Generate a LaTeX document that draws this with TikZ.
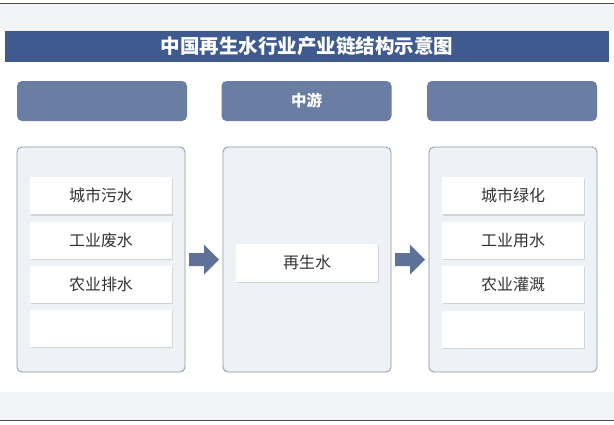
\documentclass[tikz,border=0pt]{standalone}
\usepackage{fontspec}
\newfontfamily\cjk{Noto Sans CJK SC}
\usetikzlibrary{shadows,calc}
\definecolor{titlebg}{HTML}{3E5A8E}
\definecolor{headbg}{HTML}{6A7DA3}
\definecolor{panelbg}{HTML}{EEF1F6}
\definecolor{panelline}{HTML}{8C95A5}
\definecolor{arrowc}{HTML}{5E7196}
\definecolor{stripbg}{HTML}{F2F4F7}
\tikzset{
  panel/.style={draw=panelline, fill=panelbg, line width=0.8pt, rounded corners=5pt, minimum width=168pt, minimum height=225pt, inner sep=0pt},
  head/.style={fill=headbg, rounded corners=5pt, minimum width=170pt, minimum height=40pt, inner sep=0pt, text=white, font=\cjk\bfseries\fontsize{15.5}{18}\selectfont},
  item/.style={fill=white, minimum width=142pt, minimum height=37pt, inner sep=0pt, font=\cjk\fontsize{16}{18}\selectfont, text=black!80,
    drop shadow={shadow xshift=1pt, shadow yshift=-1.5pt, fill=black!30, opacity=0.45}},
  blockarrow/.style={fill=arrowc}
}
\begin{document}
\begin{tikzpicture}[x=1pt,y=-1pt]
\useasboundingbox (0,0) rectangle (614,424);
\fill[white] (0,0) rectangle (614,424);
% top strip
\fill[stripbg] (0,3) rectangle (614,31);
\draw[black!70, line width=1pt] (0,3) -- (614,3);
% title bar
\node[fill=titlebg, minimum width=604pt, minimum height=31pt, inner sep=0pt, text=white, font=\cjk\bfseries\fontsize{19.5}{22}\selectfont] (title) at (307,46.5) {中国再生水行业产业链结构示意图};
% headers
\node[head] (h1) at (102,101) {};
\node[head] (h2) at (306.5,101) {中游};
\node[head] (h3) at (512,101) {};
% panels
\node[panel] (p1) at (101,259.5) {};
\node[panel] (p2) at (307,259.5) {};
\node[panel] (p3) at (513,259.5) {};
% left items
\node[item] (a1) at (101,195.5) {城市污水};
\node[item] (a2) at (101,240) {工业废水};
\node[item] (a3) at (101,284) {农业排水};
\node[item] (a4) at (101,328) {};
% middle item
\node[item, minimum height=38pt] (m1) at (307,262.5) {再生水};
% right items
\node[item] (b1) at (513,195.5) {城市绿化};
\node[item] (b2) at (513,240) {工业用水};
\node[item] (b3) at (513,284) {农业灌溉};
\node[item] (b4) at (513,329) {};
% arrows
\coordinate (c1) at ($(p1.east)!0.5!(p2.west)$);
\coordinate (c2) at ($(p2.east)!0.5!(p3.west)$);
\foreach \c in {c1,c2}{
  \fill[blockarrow] ($(\c)+(-15,-6.5)$) -- ($(\c)+(0,-6.5)$) -- ($(\c)+(0,-15)$) -- ($(\c)+(15,0)$) -- ($(\c)+(0,15)$) -- ($(\c)+(0,6.5)$) -- ($(\c)+(-15,6.5)$) -- cycle;
}
% bottom strip
\fill[stripbg] (0,392) rectangle (614,420);
\draw[black!70, line width=1pt] (0,420.5) -- (614,420.5);
\end{tikzpicture}
\end{document}
